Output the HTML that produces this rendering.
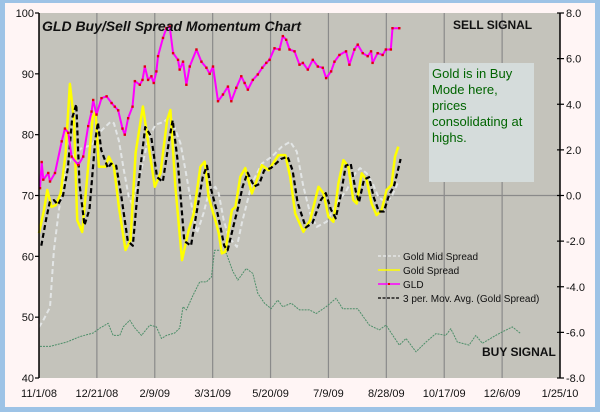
<!DOCTYPE html>
<html><head><meta charset="utf-8"><style>
html,body{margin:0;padding:0;background:#9dc3e6;}
svg{display:block;font-family:"Liberation Sans",Arial,sans-serif;}
</style></head><body>
<svg id="chart" width="600" height="412" viewBox="0 0 600 412" xmlns="http://www.w3.org/2000/svg">
<rect x="0" y="0" width="600" height="412" fill="#9dc3e6"/>
<rect x="5" y="3" width="590" height="404" fill="#fff5f5"/>
<rect x="39" y="13" width="521" height="365" fill="#c4c3bb"/>
<g id="grid"></g>
<g id="series"></g>
<g id="axes"></g>
<text x="42" y="31" font-size="14" font-weight="bold" font-style="italic" fill="#111">GLD Buy/Sell Spread Momentum Chart</text>
<text x="453" y="29" font-size="12" font-weight="bold" fill="#111">SELL SIGNAL</text>
<text x="482" y="356" font-size="12" font-weight="bold" fill="#111">BUY SIGNAL</text>
<g>
<rect x="429" y="63" width="105" height="119" fill="#d5dcdb"/>
<text x="432" y="78" font-size="13" fill="#006400">Gold is in Buy</text>
<text x="432" y="94" font-size="13" fill="#006400">Mode here,</text>
<text x="432" y="110" font-size="13" fill="#006400">prices</text>
<text x="432" y="126" font-size="13" fill="#006400">consolidating at</text>
<text x="432" y="142" font-size="13" fill="#006400">highs.</text>
</g>
<g font-size="10" fill="#111">
<g><line x1="378" y1="256" x2="400" y2="256" stroke="#e4e6e6" stroke-width="1.5" stroke-dasharray="3,2"/><text x="403" y="260">Gold Mid Spread</text></g>
<g><line x1="378" y1="270" x2="400" y2="270" stroke="#ffff00" stroke-width="1.5"/><text x="403" y="274">Gold  Spread</text></g>
<g><line x1="378" y1="284" x2="400" y2="284" stroke="#ff00ff" stroke-width="1.5"/><rect x="388" y="283" width="2" height="2" fill="#e00"/><text x="403" y="288">GLD</text></g>
<g><line x1="378" y1="298" x2="400" y2="298" stroke="#000" stroke-width="1.2" stroke-dasharray="3,1.5"/><text x="403" y="302">3 per. Mov. Avg. (Gold  Spread)</text></g>
</g>
</svg>
<script>
const xTickLabels=["11/1/08","12/21/08","2/9/09","3/31/09","5/20/09","7/9/09","8/28/09","10/17/09","12/6/09","1/25/10"];
const leftTicks=[40,50,60,70,80,90,100];
const rightTicks=["-8.0","-6.0","-4.0","-2.0","0.0","2.0","4.0","6.0","8.0"];
const gldDays=[0.9,2.3,3.7,8,9.5,13.8,19.6,22.4,25.3,28.2,33.9,38.2,42.5,45.4,46.8,49.7,54,58.4,62.7,65.5,68.4,72.1,74.1,77,80.8,82.8,87.1,89.4,91.4,94.2,97.1,99.1,101.4,102.8,107.1,110,112.9,115.8,120.1,121.5,124.4,127.3,130.2,136,140.3,144.6,147.4,150.3,154.6,158.9,163.2,166.1,170.4,174.7,177.6,180.4,184.7,189,192.8,196.3,199.1,203.4,207.7,210.6,213.5,216.4,220.7,225,227.9,232.2,236.5,240.8,245.1,248,252.3,255.2,259.5,265.2,268.1,272.4,275.3,279.6,283.9,286.8,288.1,292.5,296.8,299.6,303.9,305.3,311.2];
const gldValues=[71.2,75.5,72.6,73.7,72.3,73.7,78.9,81,80.3,76.4,75,76.4,81.4,83.8,85.7,83.3,86,86.3,85.2,84.6,84,81,80,82.7,84.6,88.8,88.2,89,91.2,89,89.6,88.5,90.4,92.9,95.9,97.5,97.8,93.4,92.3,90.7,92,88.2,91.2,94,92,91,90,91.2,85.5,86.6,87.9,85.5,87.7,89.6,88.5,87.4,89,89.9,91,91.8,92.3,94.2,94,96.2,95.6,94,93.7,91.5,91.8,90.7,92.3,91.2,91,89.3,90.4,92,93.1,93.7,91.5,94,94.8,93.4,92.9,93.7,91.8,93.4,93.1,94,94,97.5,97.5];
const spreadDays=[0,4.3,7.2,10.9,14.4,18.7,23,26.7,30.2,33,37.3,41.6,46.5,48.9,51.7,57.5,60.3,64.7,69,74.7,79,83.4,89.7,94.8,100,104.9,110.6,113.5,117.8,123.5,129.3,133.6,139.4,143.1,146.5,152.3,155.2,158,160.9,166.6,169.6,173.9,178.2,183.9,188.2,192.5,198.3,206.9,212.7,217,221.3,228.4,234.2,241.4,245.7,250,254.3,258.6,262.9,267.2,271.5,274.4,278.7,283,287.3,291.6,295.9,300.2,304.5,307.5,310.3];
const spreadValues=[-1.65,-0.64,0.24,-0.5,-0.42,0.1,1.86,4.89,3.3,-1.08,-1.6,0.8,3.45,3.67,1.26,1.26,1.7,1.26,-0.5,-2.39,-1.96,1.86,3.9,2.14,0.38,0.98,3.3,3.75,0.38,-2.83,-1.52,-0.79,1.26,1.48,-0.06,-1.08,-1.65,-2.54,-2.47,-0.64,-0.5,0.82,1.2,0.09,0.68,1.33,1.11,1.77,1.77,0.82,-0.79,-1.59,-1.08,0.38,0.09,-0.93,-1.15,0.53,1.55,1.26,-0.2,-0.35,0.97,0.68,-0.35,-0.86,-0.64,0.24,0.46,1.7,2.14];
const maValues=[-2.2,-1.0,-0.3,-0.2,-0.4,0.0,1.2,3.4,4.0,0.5,-1.3,-0.6,2.4,3.2,2.0,1.2,1.4,1.3,0.0,-2.0,-2.2,0.3,3.0,2.6,0.8,0.6,2.5,3.3,1.5,-2.0,-2.2,-0.9,0.8,1.3,0.3,-0.8,-1.5,-2.2,-2.4,-1.2,-0.6,0.4,1.0,0.4,0.5,1.1,1.2,1.6,1.7,1.1,-0.3,-1.4,-1.2,-0.2,0.1,-0.6,-1.0,0.0,1.3,1.4,0.2,-0.3,0.7,0.8,-0.1,-0.7,-0.7,0.0,0.4,1.0,1.6];
const midDays=[0,3.4,9.5,12.9,17.2,23,28.4,37.1,45.7,54.3,61.8,64.7,69,73.3,77.6,80.2,84.5,88.8,94.8,100.6,107.8,113.5,117.8,122.1,126.5,132.1,136.5,142.2,146.5,152.3,155.2,159.5,163.8,170.9,175.2,183.9,192.5,201.1,209.7,217,222.7,228.4,234.2,239.9,248.5,257.1,265.8,273,277.3,283,288.8,293.1,298.9,304.5,310.3];
const midValues=[-5.77,-5.5,-4.9,-2.4,-0.64,1.1,1.7,2.1,2.2,2.87,3.23,3.17,2.4,1.1,-0.06,-0.35,0.38,1.24,2.56,3.1,3.23,3.45,2.87,2.3,1.1,-0.5,-1.65,-0.77,0.1,0.38,0.1,-1.08,-1.81,-2.25,-1.22,0.53,1.4,1.7,2.14,2.36,1.92,0.38,-0.79,-1.37,-1.15,-0.35,0.24,0.97,1.2,0.97,0.46,-0.06,-0.28,-0.06,0.6];
const greenDays=[0.9,9.5,23.9,35.3,46.8,52.6,59.7,64,69.8,72.7,78.4,82.8,88.5,95.7,101.4,105.8,110.1,117.2,121.5,124.4,127.3,133,138.8,144.6,148.9,151.7,156,161.8,167.5,171.8,179,184.7,189,194.8,200.5,206.2,210.6,217.8,225,233.6,239.4,248,256.6,262.3,275.2,285.3,293.9,299.7,311.2,317,325.6,334.2,342.8,351.4,355.7,361.4,371.5,377.3,383,394.5,400.3,408.9,416.1];
const greenValues=[45.2,45.2,45.9,46.8,47.4,48.2,49,47,47,48.4,49.5,48.2,47,48.7,48.4,46.5,47,47.4,48.2,51.7,51.2,53.6,55.8,55.8,56.6,61,61,60.5,57.5,56.1,58,57.2,53.9,52.3,51.4,52.8,51.7,52.3,51.2,51.2,50.6,51.7,53.1,51.4,51.4,48.7,47.9,48.7,45.4,46.5,44.3,45.9,47.3,47,48.1,45.9,45.4,47,45.7,47,47.6,48.4,47.3];

const NS="http://www.w3.org/2000/svg";
const X0=39,X1=560,Y0=13,Y1=378,DAYSPAN=450,MA_LAG=2;
const xS=d=>X0+d*(X1-X0)/DAYSPAN;
const yL=v=>Y1-(v-40)*(Y1-Y0)/60;
const yR=v=>Y1-(v+8)*(Y1-Y0)/16;
function mk(tag,attrs,parent){const e=document.createElementNS(NS,tag);for(const k in attrs)e.setAttribute(k,attrs[k]);parent.appendChild(e);return e;}
const grid=document.getElementById('grid'),axes=document.getElementById('axes'),ser=document.getElementById('series');

xTickLabels.forEach((lab,i)=>{
  const x=xS(i*50);
  if(i>0&&i<xTickLabels.length-1){const g=mk('line',{x1:x,y1:Y0,x2:x,y2:Y1,stroke:'#8a8a8a','stroke-width':1.2},grid);
  
  }
  const t=mk('text',{x:x,y:397,'text-anchor':'middle','font-size':11,fill:'#111'},axes);t.textContent=lab;
  
  
});
const hg=mk('line',{x1:X0,y1:yR(0),x2:X1,y2:yR(0),stroke:'#8a8a8a','stroke-width':1.2},grid);



const la=mk('line',{x1:X0,y1:Y0,x2:X0,y2:Y1,stroke:'#000','stroke-width':1.5},axes);


const ra=mk('line',{x1:X1,y1:Y0,x2:X1,y2:Y1,stroke:'#000','stroke-width':1.5},axes);


leftTicks.forEach(v=>{
  const y=yL(v);
  mk('line',{x1:X0-4,y1:y,x2:X0,y2:y,stroke:'#000','stroke-width':1.2},axes);
  const t=mk('text',{x:X0-5,y:y+4,'text-anchor':'end','font-size':11,fill:'#111'},axes);t.textContent=v;
  
  
});
rightTicks.forEach(s=>{
  const y=yR(parseFloat(s));
  mk('line',{x1:X1-3,y1:y,x2:X1+4,y2:y,stroke:'#000','stroke-width':1.2},axes);
  const t=mk('text',{x:X1+6,y:y+4,'font-size':11,fill:'#111'},axes);t.textContent=s;
  
  
});

function path(days,vals,ys,lag,attrs,name){
  const d=days.map((dd,i)=>(i?'L':'M')+xS(dd+lag).toFixed(1)+','+ys(vals[i]).toFixed(1)).join('');
  const p=mk('path',Object.assign({d:d,fill:'none','stroke-linejoin':'round'},attrs),ser);
  
  
  return p;
}
path(greenDays,greenValues,yL,0,{stroke:'#4e8f6a','stroke-width':1,'stroke-dasharray':'2,1'},'green-dotted-series');
path(midDays,midValues,yR,0,{stroke:'#e2e5e5','stroke-width':2,'stroke-dasharray':'5,3'},'gold-mid-spread-line');
path(spreadDays,spreadValues,yR,0,{stroke:'#ffff00','stroke-width':2.5},'gold-spread-line');
path(spreadDays,maValues,yR,MA_LAG,{stroke:'#000','stroke-width':2.2,'stroke-dasharray':'5,3'},'moving-average-line');
path(gldDays,gldValues,yL,0,{stroke:'#ff00ff','stroke-width':2},'gld-line');
gldDays.forEach((dd,i)=>{
  const c=mk('rect',{x:xS(dd)-1.2,y:yL(gldValues[i])-1.2,width:2.4,height:2.4,fill:'#e00010'},ser);
  
  
});
</script>
</body></html>
